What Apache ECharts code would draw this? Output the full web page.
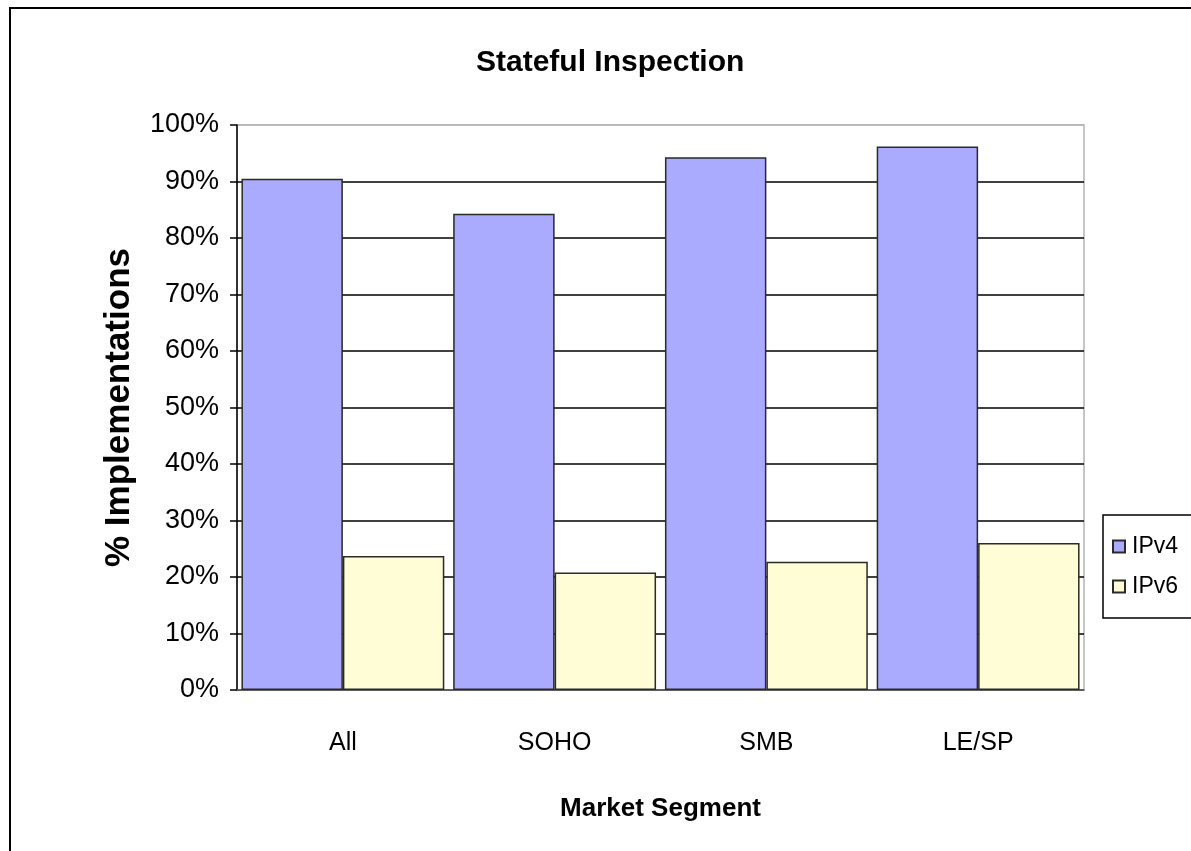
<!DOCTYPE html>
<html>
<head>
<meta charset="utf-8">
<script src="https://cdn.jsdelivr.net/npm/echarts@6/dist/echarts.min.js"></script>
<style>
  html, body { margin: 0; padding: 0; background: #fff; }
  #main { width: 1191px; height: 851px; }
</style>
</head>
<body>
<div id="main"></div>
<script>
const categories = ["All", "SOHO", "SMB", "LE/SP"];
const ipv4 = [90.5, 84.3, 94.3, 96.2];
const ipv6 = [23.7, 20.8, 22.7, 26.0];
const yTicks = [0, 10, 20, 30, 40, 50, 60, 70, 80, 90, 100];

// top gridline (100%) stays grey like the plot border
const gridColors = yTicks.map((t, i) => (i === yTicks.length - 1 ? "#b4b4b4" : "#000"));

const sans = "Liberation Sans, Arial, sans-serif";

let option = {
  animation: false,
  backgroundColor: "#fff",
  title: {
    text: "Stateful Inspection",
    left: 471,
    top: 43,
    textStyle: {
      fontFamily: sans,
      fontWeight: "bold",
      fontSize: 30,
      color: "#000",
    },
  },
  graphic: [
    {
      type: "rect",
      shape: { x: 10, y: 8, width: 1400, height: 1000 },
      style: { fill: "none", stroke: "#000", lineWidth: 2 },
      silent: true,
    },
  ],
  legend: {
    orient: "vertical",
    left: 1103,
    top: 515,
    padding: [20, 30, 20, 9],
    itemWidth: 12,
    itemHeight: 12,
    itemGap: 17,
    borderColor: "#000",
    borderWidth: 1.5,
    icon: "rect",
    data: ["IPv4", "IPv6"],
    textStyle: {
      fontFamily: sans,
      fontSize: 23,
      color: "#000",
      padding: [0, 0, 0, 2],
    },
  },
  grid: {
    left: 237,
    right: 107,
    top: 125,
    bottom: 161,
    show: true,
    backgroundColor: "#fff",
    borderColor: "#b4b4b4",
    borderWidth: 1.5,
  },
  xAxis: {
    type: "category",
    data: categories,
    name: "Market Segment",
    nameLocation: "middle",
    nameGap: 106,
    nameTextStyle: {
      fontFamily: sans,
      fontWeight: "bold",
      fontSize: 26,
      color: "#000",
    },
    axisLine: { lineStyle: { color: "#707070", width: 1.5 } },
    axisTick: { length: 10, lineStyle: { color: "#707070", width: 1.5 } },
    axisLabel: {
      margin: 41,
      fontFamily: sans,
      fontSize: 25,
      color: "#000",
    },
  },
  yAxis: {
    type: "value",
    min: 0,
    max: 100,
    interval: 10,
    name: "% Implementations",
    nameLocation: "middle",
    nameGap: 100,
    nameTextStyle: {
      fontFamily: sans,
      fontWeight: "bold",
      fontSize: 35,
      color: "#000",
    },
    axisLine: { show: true, lineStyle: { color: "#000", width: 1.5 } },
    axisTick: { show: true, length: 7, lineStyle: { color: "#000", width: 1.5 } },
    axisLabel: {
      margin: 18,
      formatter: "{value}%",
      fontFamily: sans,
      fontSize: 27,
      color: "#000",
    },
    splitLine: { lineStyle: { color: gridColors, width: 1.5 } },
  },
  series: [
    {
      name: "IPv4",
      type: "bar",
      data: ipv4,
      barGap: "0%",
      barCategoryGap: "4.2%",
      itemStyle: { color: "#AAAAFF", borderColor: "#2a2a2a", borderWidth: 1.5 },
    },
    {
      name: "IPv6",
      type: "bar",
      data: ipv6,
      itemStyle: { color: "#FFFDD6", borderColor: "#2a2a2a", borderWidth: 1.5 },
    },
  ],
};

let chartDom = document.getElementById("main");
let myChart = echarts.init(chartDom);
option && myChart.setOption(option);
</script>
</body>
</html>
